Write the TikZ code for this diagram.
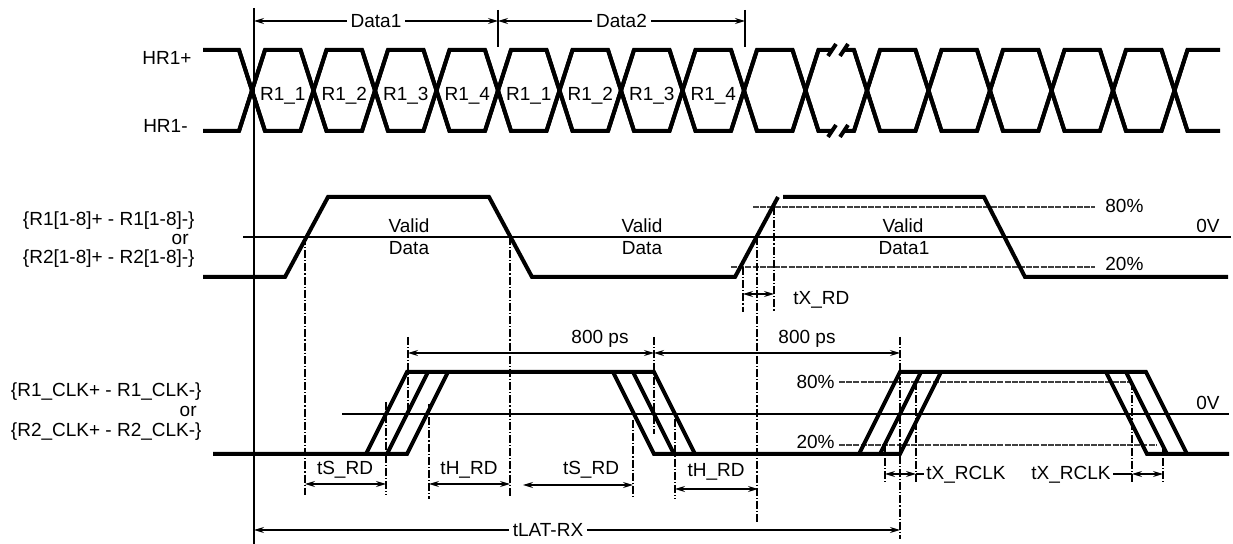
\documentclass[tikz,border=0pt]{standalone}
\usepackage{fontspec}
\setmainfont{Liberation Sans}
\usetikzlibrary{arrows.meta}
\pgfdeclarelayer{bg}
\pgfsetlayers{bg,main}

\tikzset{
  sig/.style={line width=2pt},
  refline/.style={line width=0.55pt},
  guide/.style={line width=0.55pt, dash pattern=on 4pt off 1pt on 0.6pt off 1pt},
  level/.style={line width=0.55pt, black!75, dash pattern=on 3pt off 0.6pt},
  dim/.style={line width=0.55pt, {Stealth[length=5pt,width=3pt]}-{Stealth[length=5pt,width=3pt]}},
  txt/.style={font=\fontsize{9.5}{11}\selectfont, inner sep=0pt},
  cut/.style={fill=white, inner xsep=2pt},
}

\begin{document}
\begin{tikzpicture}[x=0.5pt, y=-0.5pt, every node/.style={txt}]
        \useasboundingbox (0,0) rectangle (1233,544);
        % signal names
        \node (hrp) [anchor=base east] at (192,65) {HR1+};
        \node (hrm) [anchor=base east] at (188,133) {HR1-};
        \node (dat1) [anchor=base east] at (195,226) {\{R1[1-8]+ - R1[1-8]-\}};
        \node (dator) [anchor=base east] at (189,245) {or};
        \node (dat2) [anchor=base east] at (195,264) {\{R2[1-8]+ - R2[1-8]-\}};
        \node (clk1) [anchor=base east] at (202,397) {\{R1\_CLK+ - R1\_CLK-\}};
        \node (clkor) [anchor=base east] at (197,417) {or};
        \node (clk2) [anchor=base east] at (202,437) {\{R2\_CLK+ - R2\_CLK-\}};
        % bit labels
        \foreach \k in {0,...,7}
                \pgfmathtruncatemacro{\n}{mod(\k,4)+1}
                \node (r\k) [anchor=base] at ({282.75+61.5*\k},101) {R1\_\n};
        \node (lblA) [cut, anchor=base] at (376,28) {Data1};
        \node (lblB) [cut, anchor=base] at (621.5,28) {Data2};
        % data window labels
        \node (va1) [anchor=base] at (409,233) {Valid};
        \node (da1) [anchor=base] at (409,255) {Data};
        \node (va2) [anchor=base] at (642,233) {Valid};
        \node (da2) [anchor=base] at (642,255) {Data};
        \node (va3) [anchor=base] at (903,233) {Valid};
        \node (da3) [anchor=base] at (904,255) {Data1};
        \node (p80a) [anchor=base west] at (1105,213) {80\%};
        \node (p20a) [anchor=base west] at (1105,271) {20\%};
        \node (zva) [anchor=base east] at (1220,233) {0V};
        \node (txrd) [anchor=base west] at (793,305) {tX\_RD};
        % clock labels
        \node (ps1) [anchor=base] at (600,344) {800 ps};
        \node (ps2) [anchor=base] at (807,344) {800 ps};
        \node (p80b) [anchor=base east] at (835,389) {80\%};
        \node (p20b) [anchor=base east] at (835,449) {20\%};
        \node (zvb) [anchor=base east] at (1220,410) {0V};
        \node (ts1) [anchor=base] at (345,475) {tS\_RD};
        \node (th1) [anchor=base] at (469,475) {tH\_RD};
        \node (ts2) [anchor=base] at (591,475) {tS\_RD};
        \node (th2) [anchor=base] at (716,477) {tH\_RD};
        \node (xc1) [anchor=base west, inner xsep=1pt] at (924,480) {tX\_RCLK};
        \node (xc2) [anchor=base east, inner xsep=1pt] at (1113,480) {tX\_RCLK};
        \node (lat) [cut, anchor=base] at (548,537) {tLAT-RX};
        % dimension end points
        \coordinate (a0) at (254,21);
        \coordinate (a1) at (498,21);
        \coordinate (a2) at (745,21);
        \coordinate (xa) at (743,294);
        \coordinate (xb) at (774,294);
        \coordinate (s1a) at (305,484);
        \coordinate (s1b) at (386,484);
        \coordinate (h1a) at (429,484);
        \coordinate (h1b) at (510,484);
        \coordinate (s2a) at (523,485);
        \coordinate (s2b) at (633,485);
        \coordinate (h2a) at (675,489);
        \coordinate (h2b) at (758,489);
        \coordinate (pa) at (408,353);
        \coordinate (pb) at (654,353);
        \coordinate (pc) at (900,353);
        \coordinate (la) at (254,530);
        \coordinate (lb) at (900,530);
        \coordinate (k1a) at (885,474);
        \coordinate (k1b) at (916,474);
        \coordinate (k2a) at (1132,474);
        \coordinate (k2b) at (1163,474);
        \begin{pgfonlayer}{bg}
                % reference lines
                \draw[refline] (254,8) -- (254,544);
                \draw[refline] (498,10) -- (498,47);
                \draw[refline] (745,10) -- (745,47);
                \draw[refline] (243,237) -- (1231,237);
                \draw[refline] (342,414) -- (1229,414);
                \draw[level] (753,207) -- (1095,207);
                \draw[level] (731,267) -- (1095,267);
                \draw[level] (839,382) -- (1130,382);
                \draw[level] (839,445) -- (1157,445);
                \foreach \gx/\ga/\gb in {305/237/495, 510/237/497, 743/267/312, 757/237/522, 774/207/312,
                        386/402/495, 408/337/415, 429/404/499, 633/420/499, 654/337/434, 675/419/499,
                        900/337/539, 885/445/482, 916/382/482, 1132/382/482, 1163/445/482}
                        \draw[guide] (\gx,\ga) -- (\gx,\gb);
                % serial eye
                \draw[sig] (203,50) -- (239,50) -- (265,131);
                \draw[sig] (203,131) -- (239,131) -- (265,50);
                \foreach \k in {0,1,2,3,4,5,6,7,8,10,11,12,13,14}{
                        \draw[sig] ({239+61.5*\k},131) -- ({265+61.5*\k},50) -- ({300.5+61.5*\k},50) -- ({326.5+61.5*\k},131);
                        \draw[sig] ({239+61.5*\k},50) -- ({265+61.5*\k},131) -- ({300.5+61.5*\k},131) -- ({326.5+61.5*\k},50);
                }
                \draw[sig] (792.5,131) -- (818.5,50) -- (832,50);
                \draw[sig] (828,56) -- (836,44);
                \draw[sig] (840,56) -- (848,44);
                \draw[sig] (844,50) -- (854,50) -- (880,131);
                \draw[sig] (792.5,50) -- (818.5,131) -- (832,131);
                \draw[sig] (828,137) -- (836,125);
                \draw[sig] (840,137) -- (848,125);
                \draw[sig] (844,131) -- (854,131) -- (880,50);
                \draw[sig] (1161.5,50) -- (1187.5,131) -- (1220,131);
                \draw[sig] (1161.5,131) -- (1187.5,50) -- (1220,50);
                % data lanes
                \draw[sig] (203,277) -- (285,277) -- (328,197) -- (489,197) -- (532,277) -- (735,277) -- (778,197);
                \draw[sig] (783,197) -- (984,197) -- (1025,277) -- (1228,277);
                % clock
                \draw[sig] (213,454) -- (407,454) -- (448,372);
                \draw[sig] (366,454) -- (407,372) -- (654,372) -- (695,454);
                \draw[sig] (387,454) -- (428,372);
                \draw[sig] (613,372) -- (654,454) -- (900,454) -- (941,372);
                \draw[sig] (633,372) -- (674,454);
                \draw[sig] (859,454) -- (900,372) -- (1146,372) -- (1187,454);
                \draw[sig] (880,454) -- (921,372);
                \draw[sig] (1106,372) -- (1147,454) -- (1229,454);
                \draw[sig] (1126,372) -- (1167,454);
                % timing arrows
                \draw (a0) edge [dim] (a1);
                \draw (a1) edge [dim] (a2);
                \draw (xa) edge [dim] (xb);
                \draw (s1a) edge [dim] (s1b);
                \draw (h1a) edge [dim] (h1b);
                \draw (s2a) edge [dim] (s2b);
                \draw (h2a) edge [dim] (h2b);
                \draw (pa) edge [dim] (pb);
                \draw (pb) edge [dim] (pc);
                \draw (la) edge [dim] (lb);
                \draw (k1a) edge [dim] (k1b);
                \draw (k2a) edge [dim] (k2b);
                \draw[refline] (k1b) -- (xc1.west |- k1b);
                \draw[refline] (xc2.east |- k2a) -- (k2a);
        \end{pgfonlayer}
\end{tikzpicture}
\end{document}
